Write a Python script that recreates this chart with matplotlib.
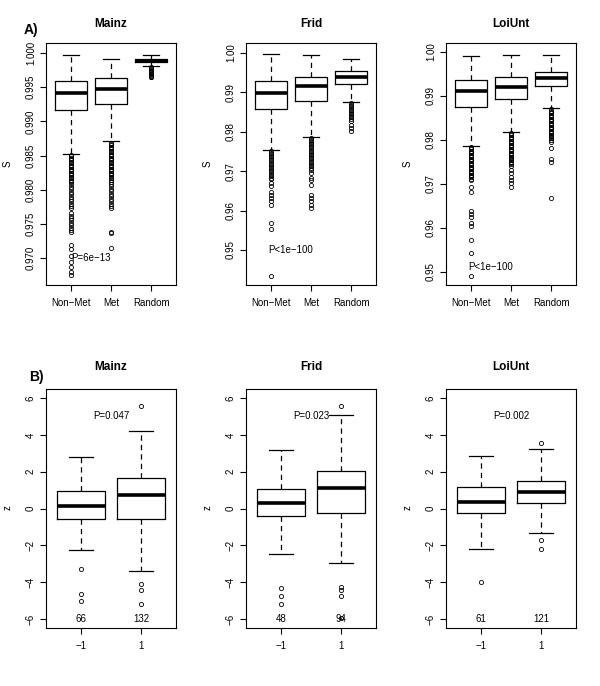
import matplotlib
matplotlib.use("Agg")
import matplotlib.pyplot as plt

plt.rcParams["font.family"] = ["Liberation Sans", "DejaVu Sans"]
plt.rcParams["lines.scale_dashes"] = False

DATASETS = ["Mainz", "Frid", "LoiUnt"]
GROUPS_A = ["Non−Met", "Met", "Random"]
GROUPS_B = ["−1", "1"]

# ---- panel A: S by group (Non-Met, Met, Random) ----
mainz_q1 = [0.9917, 0.9926, 0.99863]
mainz_med = [0.9942, 0.9948, 0.99887]
mainz_q3 = [0.9959, 0.9963, 0.9991]
mainz_lo = [0.9853, 0.9871, 0.9981]
mainz_hi = [0.99966, 0.99912, 0.99975]
mainz_out_nonmet = [0.9851, 0.9849, 0.9847, 0.9845, 0.9843, 0.9841, 0.9839, 0.9837, 0.9835,
                    0.9833, 0.9831, 0.9829, 0.9827, 0.9825, 0.9823, 0.9821, 0.9819, 0.9817,
                    0.9815, 0.9813, 0.9811, 0.9808, 0.9804, 0.9801, 0.9797, 0.9794, 0.9790,
                    0.9787, 0.9784, 0.9780, 0.9777, 0.9773, 0.9766, 0.9762, 0.9759, 0.9756,
                    0.9752, 0.9749, 0.9745, 0.9742, 0.9739, 0.9719, 0.9714, 0.9704, 0.9694,
                    0.9687, 0.9680, 0.9675]
mainz_out_met = [0.9869, 0.9867, 0.9865, 0.9863, 0.9861, 0.9859, 0.9857, 0.9855, 0.9853,
                 0.9851, 0.9849, 0.9847, 0.9845, 0.9843, 0.9841, 0.9839, 0.9837, 0.9835,
                 0.9833, 0.9831, 0.9829, 0.9827, 0.9825, 0.9823, 0.9821, 0.9819, 0.9817,
                 0.9814, 0.9811, 0.9808, 0.9805, 0.9801, 0.9798, 0.9794, 0.9791, 0.9787,
                 0.9784, 0.9780, 0.9777, 0.9773, 0.9738, 0.9737, 0.9715]
mainz_out_random = [0.9979, 0.99775, 0.9976, 0.99745, 0.9973, 0.99715, 0.9970, 0.99685,
                    0.9967, 0.99655, 0.99647]

frid_q1 = [0.98585, 0.98771, 0.9922]
frid_med = [0.98992, 0.99153, 0.99398]
frid_q3 = [0.99288, 0.99381, 0.99542]
frid_lo = [0.97525, 0.97864, 0.98744]
frid_hi = [0.99966, 0.99949, 0.99847]
frid_out_nonmet = [0.9751, 0.9747, 0.9743, 0.9739, 0.9735, 0.9731, 0.9727, 0.9723, 0.9719,
                   0.9715, 0.9711, 0.9707, 0.9703, 0.9699, 0.9695, 0.9691, 0.9687, 0.9683,
                   0.9679, 0.9670, 0.9661, 0.9648, 0.9640, 0.9631, 0.9623, 0.9614, 0.9569,
                   0.9553, 0.9434]
frid_out_met = [0.9784, 0.9780, 0.9776, 0.9772, 0.9768, 0.9764, 0.9760, 0.9756, 0.9752,
                0.9748, 0.9744, 0.9740, 0.9736, 0.9732, 0.9728, 0.9724, 0.9720, 0.9716,
                0.9712, 0.9708, 0.9704, 0.9695, 0.9682, 0.9678, 0.9665, 0.9640, 0.9631,
                0.9623, 0.9614, 0.9606]
frid_out_random = [0.9872, 0.9868, 0.9864, 0.9860, 0.9856, 0.9852, 0.9848, 0.9844, 0.9840,
                   0.9836, 0.9832, 0.9828, 0.9818, 0.9809, 0.9801]

loi_q1 = [0.9875, 0.98917, 0.9922]
loi_med = [0.99114, 0.99205, 0.99409]
loi_q3 = [0.99348, 0.99417, 0.99545]
loi_lo = [0.97857, 0.98182, 0.98714]
loi_hi = [0.99894, 0.99924, 0.99917]
loi_out_nonmet = [0.9784, 0.9781, 0.9778, 0.9775, 0.9772, 0.9769, 0.9766, 0.9763, 0.9760,
                  0.9757, 0.9754, 0.9751, 0.9748, 0.9745, 0.9742, 0.9739, 0.9736, 0.9733,
                  0.9730, 0.9727, 0.9724, 0.9721, 0.9718, 0.9715, 0.9712, 0.9709, 0.9693,
                  0.9682, 0.9639, 0.9631, 0.9624, 0.9610, 0.9604, 0.9572, 0.9543, 0.9490]
loi_out_met = [0.9816, 0.9813, 0.9810, 0.9807, 0.9804, 0.9801, 0.9798, 0.9795, 0.9792,
               0.9789, 0.9786, 0.9783, 0.9780, 0.9777, 0.9774, 0.9771, 0.9768, 0.9765,
               0.9762, 0.9759, 0.9756, 0.9753, 0.9750, 0.9747, 0.9744, 0.9741, 0.9731,
               0.9724, 0.9716, 0.9708, 0.9701, 0.9693]
loi_out_random = [0.9869, 0.9866, 0.9863, 0.9860, 0.9857, 0.9854, 0.9851, 0.9848, 0.9845,
                  0.9842, 0.9839, 0.9836, 0.9833, 0.9830, 0.9827, 0.9824, 0.9821, 0.9818,
                  0.9815, 0.9812, 0.9809, 0.9806, 0.9803, 0.9800, 0.9796, 0.9781, 0.9756,
                  0.9750, 0.9668]

a_yticks = [
    [0.970, 0.975, 0.980, 0.985, 0.990, 0.995, 1.000],
    [0.95, 0.96, 0.97, 0.98, 0.99, 1.00],
    [0.95, 0.96, 0.97, 0.98, 0.99, 1.00],
]
a_ylabels = [
    ["0.970", "0.975", "0.980", "0.985", "0.990", "0.995", "1.000"],
    ["0.95", "0.96", "0.97", "0.98", "0.99", "1.00"],
    ["0.95", "0.96", "0.97", "0.98", "0.99", "1.00"],
]
a_ylim = [(0.9661, 1.00146), (0.9411, 1.0025), (0.9470, 1.0020)]
a_pvalue = ["P=6e−13", "P<1e−100", "P<1e−100"]
a_pvalue_y = [0.970, 0.950, 0.951]

# ---- panel B: z by class (-1, 1) ----
b_q1 = [[-0.58, -0.58], [-0.43, -0.22], [-0.22, 0.31]]
b_med = [[0.16, 0.76], [0.29, 1.14], [0.38, 0.87]]
b_q3 = [[0.96, 1.63], [1.05, 2.01], [1.19, 1.52]]
b_lo = [[-2.24, -3.40], [-2.48, -2.96], [-2.20, -1.34]]
b_hi = [[2.80, 4.21], [3.18, 5.06], [2.86, 3.22]]
b_out = [
    [[-3.29, -4.63, -5.04], [5.55, -4.08, -4.45, -5.17]],
    [[-4.34, -4.77, -5.17], [5.57, -4.27, -4.41, -4.74, -5.95]],
    [[-3.99], [3.58, -1.73, -2.20]],
]
b_counts = [["66", "132"], ["48", "94"], ["61", "121"]]
b_pvalue = ["P=0.047", "P=0.023", "P=0.002"]
b_yticks = [-6, -4, -2, 0, 2, 4, 6]
b_ylabels = ["−6", "−4", "−2", "0", "2", "4", "6"]


def make_stats(q1, med, q3, lo, hi, outs):
    stats = []
    for i in range(len(q1)):
        stats.append(dict(q1=q1[i], med=med[i], q3=q3[i], whislo=lo[i], whishi=hi[i],
                          fliers=outs[i]))
    return stats


def draw_box(ax, stats, n, ylim, yticks, ylabels, xlabels):
    pos = list(range(1, n + 1))
    ax.bxp(stats, positions=pos, widths=0.8, capwidths=0.4,
           boxprops=dict(color="black", linewidth=0.9),
           medianprops=dict(color="black", linewidth=2.6, solid_capstyle="butt"),
           whiskerprops=dict(color="black", linewidth=0.9, linestyle=(0, (3.8, 3.0))),
           capprops=dict(color="black", linewidth=0.9),
           flierprops=dict(marker="o", markerfacecolor="none", markeredgecolor="black",
                           markersize=3.0, markeredgewidth=0.6, linestyle="none"))
    pad = 0.04 * n
    ax.set_xlim(0.5 - pad, n + 0.5 + pad)
    ax.set_ylim(*ylim)
    ax.set_xticks(pos, xlabels, fontsize=7)
    ax.set_yticks(yticks, ylabels, fontsize=7, rotation=90, va="center")
    ax.tick_params(direction="out", length=4.3, width=0.8)
    ax.tick_params(axis="y", pad=3)
    ax.tick_params(axis="x", pad=5)
    for s in ax.spines.values():
        s.set_linewidth(0.8)


fig = plt.figure(figsize=(6.0, 6.86), dpi=100)
W, H = 600.0, 686.0
lefts = [46, 246, 446]

a_stats = [
    make_stats(mainz_q1, mainz_med, mainz_q3, mainz_lo, mainz_hi,
               [mainz_out_nonmet, mainz_out_met, mainz_out_random]),
    make_stats(frid_q1, frid_med, frid_q3, frid_lo, frid_hi,
               [frid_out_nonmet, frid_out_met, frid_out_random]),
    make_stats(loi_q1, loi_med, loi_q3, loi_lo, loi_hi,
               [loi_out_nonmet, loi_out_met, loi_out_random]),
]

for i, name in enumerate(DATASETS):
    ax = fig.add_axes([lefts[i] / W, 1 - 285 / H, 130 / W, 242 / H])
    draw_box(ax, a_stats[i], 3, a_ylim[i], a_yticks[i], a_ylabels[i], GROUPS_A)
    ax.text(0.5, 1 + 19 / 242, name, transform=ax.transAxes, ha="center", va="center",
            fontsize=8.5, fontweight="bold")
    ax.text(1.5, a_pvalue_y[i], a_pvalue[i], ha="center", va="center", fontsize=7)
    fig.text((lefts[i] - 38) / W, 1 - 164 / H, "S", rotation=90, ha="center", va="center",
             fontsize=7)

for i, name in enumerate(DATASETS):
    ax = fig.add_axes([lefts[i] / W, 1 - 628 / H, 130 / W, 239 / H])
    st = make_stats(b_q1[i], b_med[i], b_q3[i], b_lo[i], b_hi[i], b_out[i])
    draw_box(ax, st, 2, (-6.49, 6.49), b_yticks, b_ylabels, GROUPS_B)
    ax.text(0.5, 1 + 22 / 239, name, transform=ax.transAxes, ha="center", va="center",
            fontsize=8.5, fontweight="bold")
    ax.text(1.5, 5.0, b_pvalue[i], ha="center", va="center", fontsize=7)
    for j, c in enumerate(b_counts[i]):
        ax.text(j + 1, -6.0, c, ha="center", va="center", fontsize=7)
    fig.text((lefts[i] - 38) / W, 1 - 508 / H, "z", rotation=90, ha="center", va="center",
             fontsize=7)

fig.text(31 / W, 1 - 30 / H, "A)", ha="center", va="center", fontsize=10, fontweight="bold")
fig.text(36 / W, 1 - 377 / H, "B)", ha="center", va="center", fontsize=10, fontweight="bold")

fig.savefig("out.png", dpi=100)
